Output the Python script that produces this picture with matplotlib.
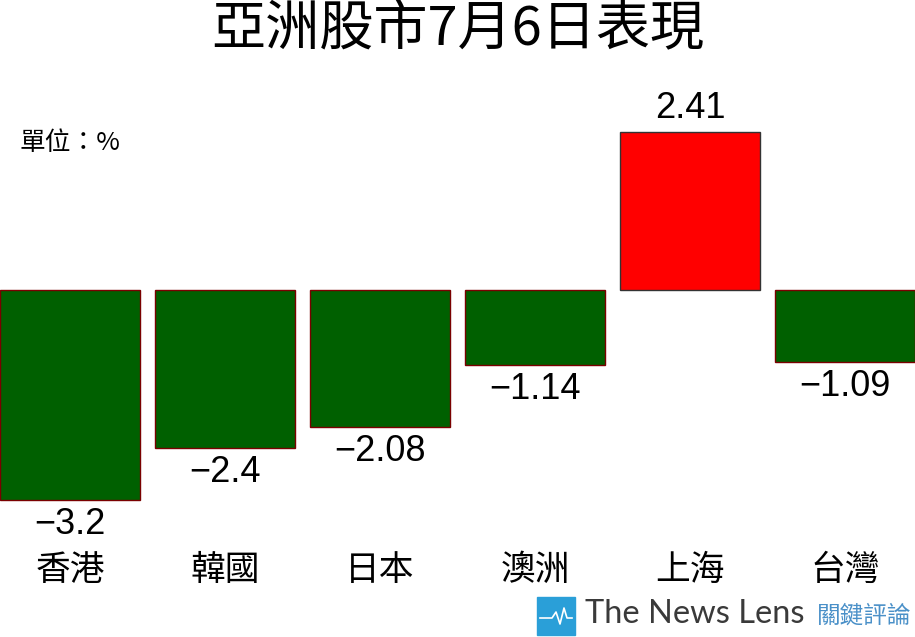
import matplotlib.pyplot as plt
from matplotlib.patches import Rectangle

plt.rcParams['font.family'] = ['Liberation Sans', 'Noto Sans CJK TC', 'DejaVu Sans']

markets = ["香港", "韓國", "日本", "澳洲", "上海", "台灣"]
changes = [-3.2, -2.4, -2.08, -1.14, 2.41, -1.09]
value_labels = ["\u22123.2", "\u22122.4", "\u22122.08", "\u22121.14", "2.41", "\u22121.09"]

fig = plt.figure(figsize=(9.15, 6.37), dpi=100)
ax = fig.add_axes([0, 0, 1, 1])
ax.set_xlim(-0.4516, 5.4516)
ax.set_ylim(-5.28, 4.414)
ax.axis("off")

colors = ["#006000" if v < 0 else "#ff0000" for v in changes]
edges = ["#7a0000" if v < 0 else "#333333" for v in changes]
ax.bar(range(len(markets)), changes, width=0.903, color=colors, edgecolor=edges, linewidth=1)

for i, (v, s) in enumerate(zip(changes, value_labels)):
    if v < 0:
        ax.annotate(s, (i, v), xytext=(0, -5), textcoords="offset points",
                    ha="center", va="top", fontsize=26)
    else:
        ax.annotate(s, (i, v), xytext=(0, 4), textcoords="offset points",
                    ha="center", va="bottom", fontsize=26)

for i, m in enumerate(markets):
    ax.text(i, (290 - 570) / 65.7, m, ha="center", va="center", fontsize=25,
            family=["Noto Sans CJK TC", "DejaVu Sans"])

fig.text(0.5, 1 - 30 / 637, "亞洲股市7月6日表現", ha="center", va="center", fontsize=39,
         family=["Noto Sans CJK TC", "DejaVu Sans"], fontweight="light")
fig.text(20 / 915, 1 - 143 / 637, "單位：%", ha="left", va="center", fontsize=18.5,
         family=["Noto Sans CJK TC", "DejaVu Sans"], fontweight="light")

# logo
fig.patches.append(Rectangle((537 / 915, 1 - 635 / 637), 38 / 915, 38 / 637,
                             transform=fig.transFigure, color="#2a9fd8"))
px = [540, 552, 556, 560, 564, 567, 572]
py = [618, 618, 612, 624, 608, 618, 618]
fig.lines.append(plt.Line2D([x / 915 for x in px], [1 - y / 637 for y in py],
                            transform=fig.transFigure, color="white", lw=1.2))
fig.text(585 / 915, 1 - 614 / 637, "The News Lens", ha="left", va="center", fontsize=23.5,
         color="#3a3a3a", family=["Lato", "DejaVu Sans"])
fig.text(817 / 915, 1 - 616 / 637, "關鍵評論", ha="left", va="center", fontsize=17,
         color="#4a90c8", family=["Noto Sans CJK TC", "DejaVu Sans"])

fig.savefig("out.png", dpi=100)
